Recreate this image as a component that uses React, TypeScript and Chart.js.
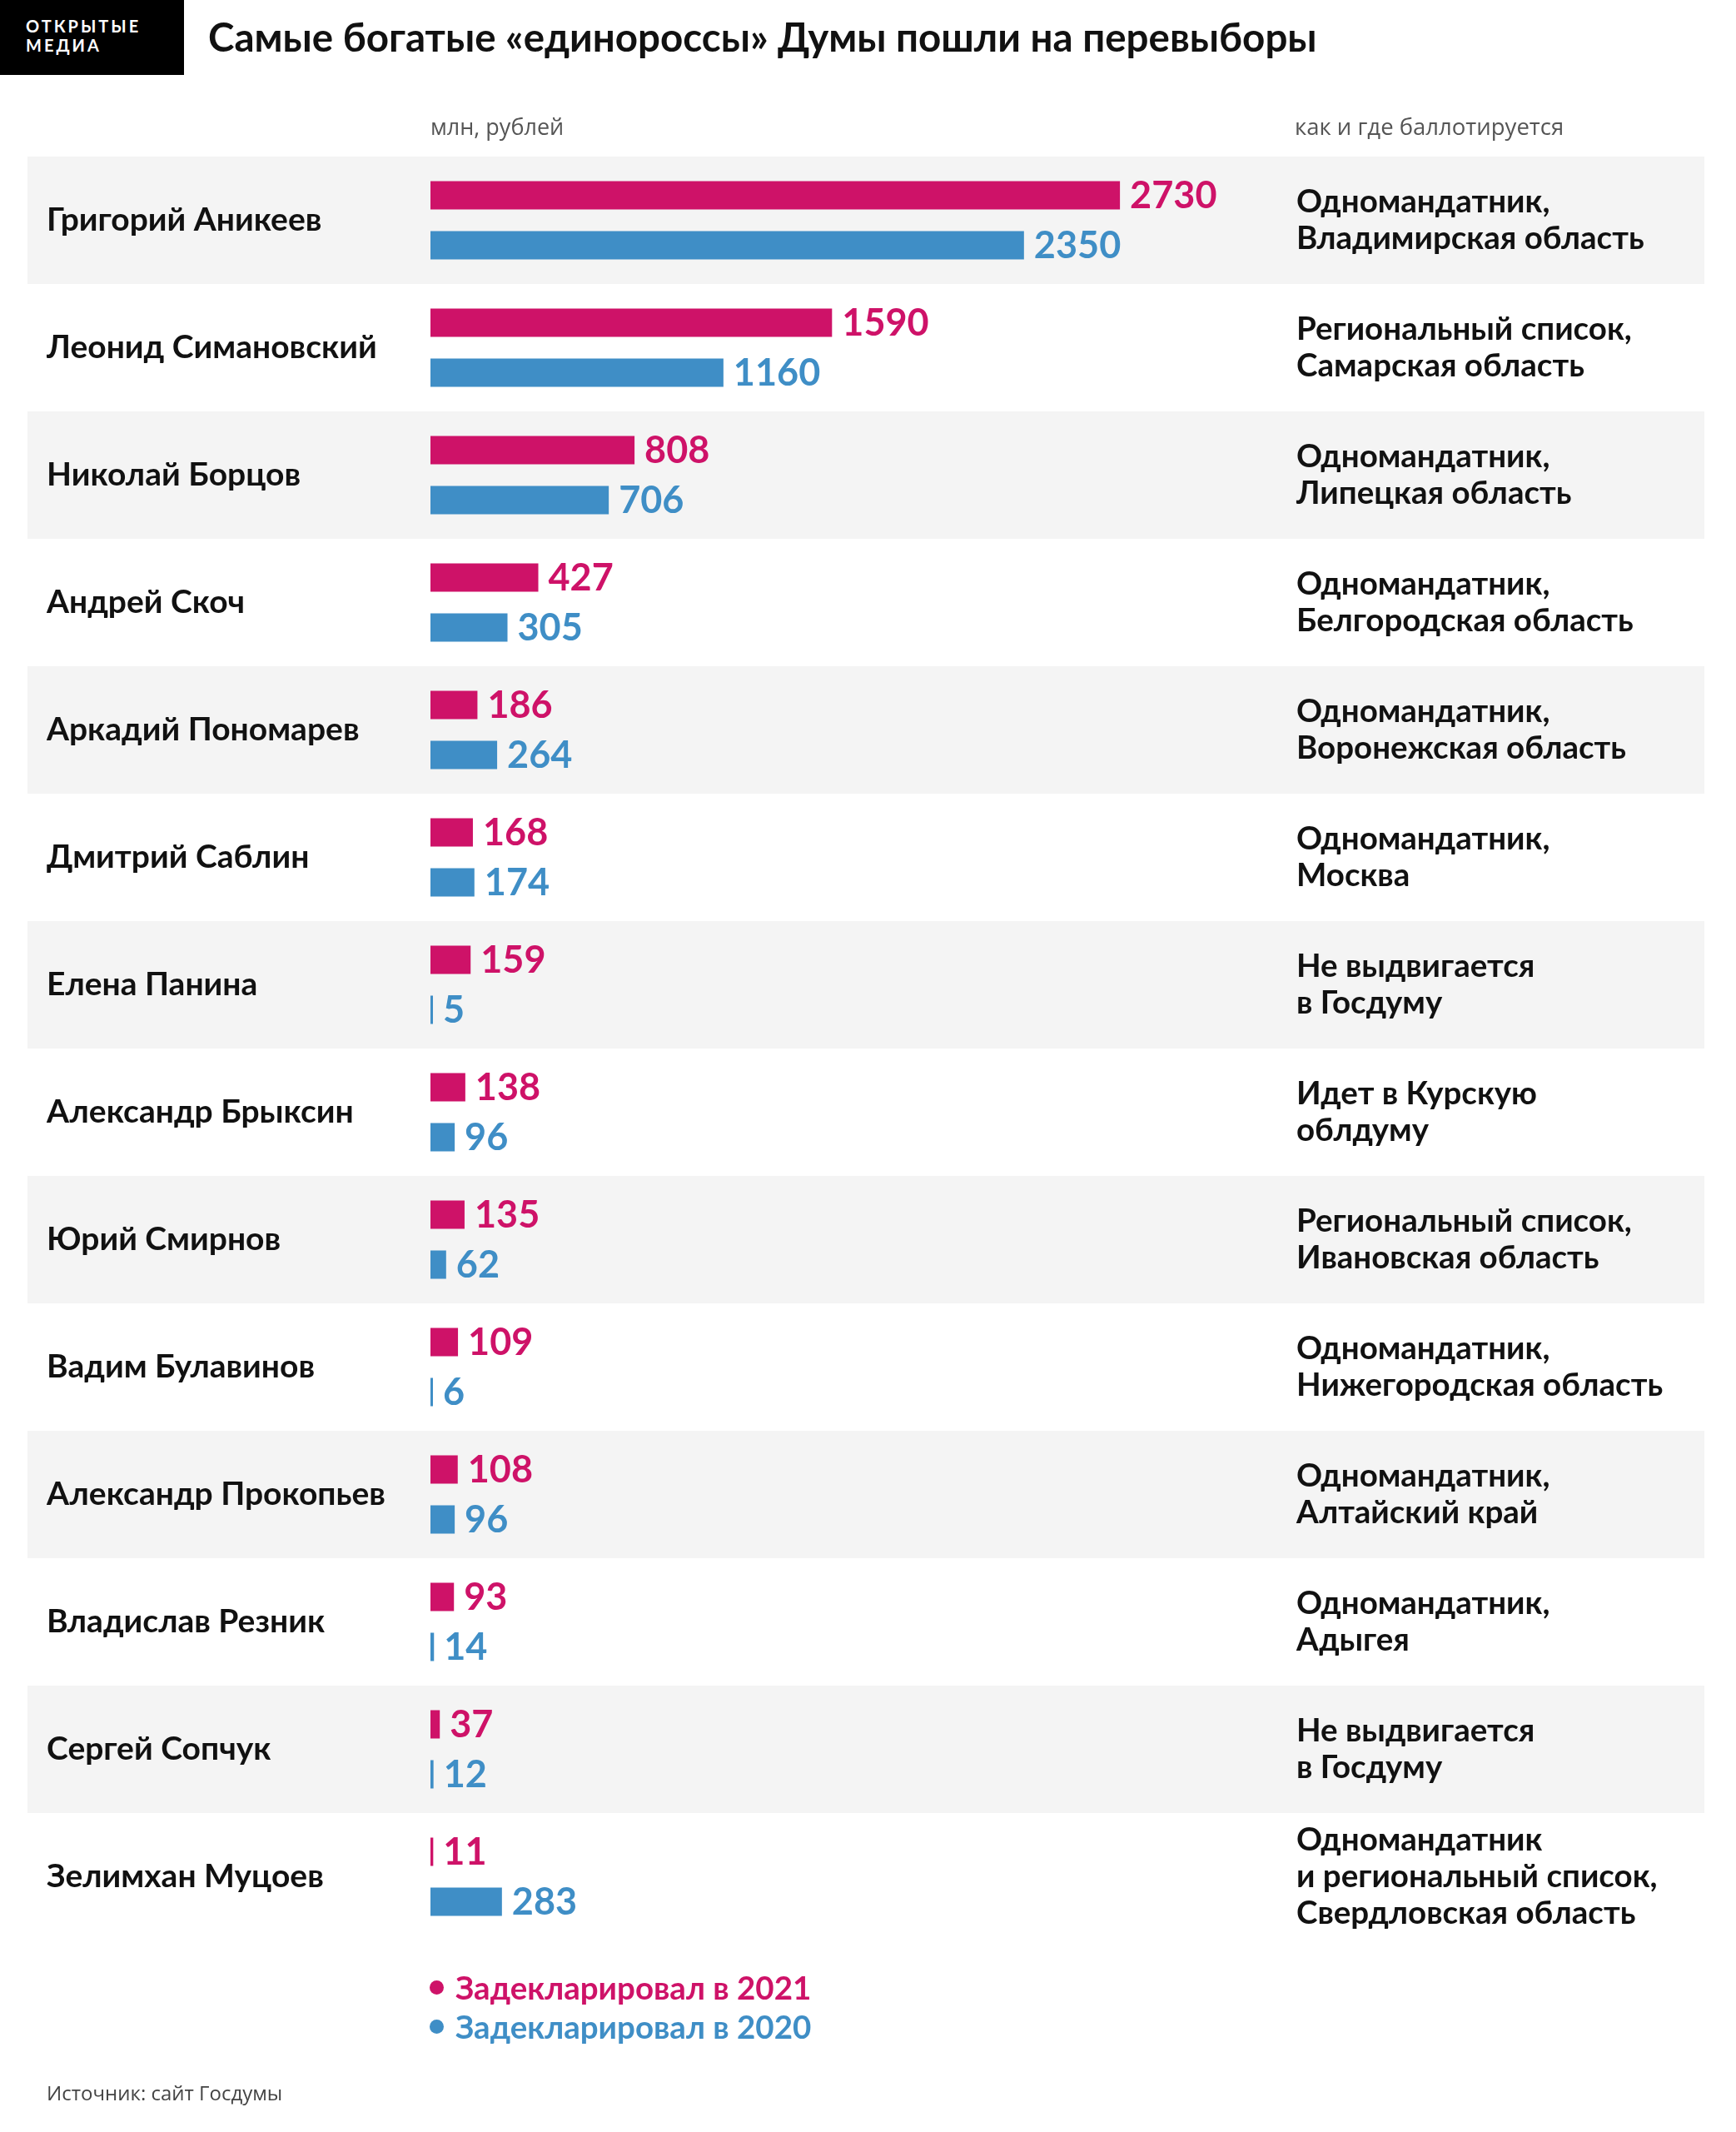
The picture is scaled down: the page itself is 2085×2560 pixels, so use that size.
import React, { useEffect, useRef } from "react";
import { Chart, registerables } from "chart.js";

Chart.register(...registerables);

const names = [
  "Григорий Аникеев",
  "Леонид Симановский",
  "Николай Борцов",
  "Андрей Скоч",
  "Аркадий Пономарев",
  "Дмитрий Саблин",
  "Елена Панина",
  "Александр Брыксин",
  "Юрий Смирнов",
  "Вадим Булавинов",
  "Александр Прокопьев",
  "Владислав Резник",
  "Сергей Сопчук",
  "Зелимхан Муцоев",
];

const values2021 = [2730, 1590, 808, 427, 186, 168, 159, 138, 135, 109, 108, 93, 37, 11];
const values2020 = [2350, 1160, 706, 305, 264, 174, 5, 96, 62, 6, 96, 14, 12, 283];

const runInfo = [
  ["Одномандатник,", "Владимирская область"],
  ["Региональный список,", "Самарская область"],
  ["Одномандатник,", "Липецкая область"],
  ["Одномандатник,", "Белгородская область"],
  ["Одномандатник,", "Воронежская область"],
  ["Одномандатник,", "Москва"],
  ["Не выдвигается", "в Госдуму"],
  ["Идет в Курскую", "облдуму"],
  ["Региональный список,", "Ивановская область"],
  ["Одномандатник,", "Нижегородская область"],
  ["Одномандатник,", "Алтайский край"],
  ["Одномандатник,", "Адыгея"],
  ["Не выдвигается", "в Госдуму"],
  ["Одномандатник", "и региональный список,", "Свердловская область"],
];

const seriesLabels = ["Задекларировал в 2021", "Задекларировал в 2020"];
const PINK = "#CE1268";
const BLUE = "#3F8EC6";
const BAND = "#F4F4F4";
const BOLD_FONT = "Lato, 'Noto Sans', sans-serif";
const LIGHT_FONT = "'Open Sans', 'Noto Sans', sans-serif";

const W = 2085;
const H = 2560;

const bandPlugin = {
  id: "bands",
  beforeDraw(chart: any) {
    const { ctx, chartArea } = chart;
    const n = names.length;
    const step = (chartArea.bottom - chartArea.top) / n;
    const yScale = chart.scales.y;
    ctx.save();
    ctx.fillStyle = BAND;
    for (let i = 0; i < n; i += 2) {
      const c = yScale.getPixelForValue(i);
      ctx.fillRect(33, c - step / 2, 2047 - 33, step);
    }
    ctx.restore();
  },
};

const valueLabelPlugin = {
  id: "valueLabels",
  afterDatasetsDraw(chart: any) {
    const { ctx } = chart;
    ctx.save();
    ctx.font = `bold 45px ${BOLD_FONT}`;
    ctx.textBaseline = "middle";
    ctx.textAlign = "left";
    chart.data.datasets.forEach((ds: any, di: number) => {
      const meta = chart.getDatasetMeta(di);
      ctx.fillStyle = ds.backgroundColor;
      meta.data.forEach((bar: any, i: number) => {
        ctx.fillText(String(ds.data[i]), bar.x + 12, bar.y + 1);
      });
    });
    ctx.restore();
  },
};

export default function App() {
  const canvasRef = useRef<HTMLCanvasElement | null>(null);

  useEffect(() => {
    if (!canvasRef.current) return;
    const chart = new Chart(canvasRef.current, {
      type: "bar",
      data: {
        labels: names,
        datasets: [
          {
            label: seriesLabels[0],
            data: values2021,
            backgroundColor: PINK,
            categoryPercentage: 120 / 153,
            barPercentage: 34 / 60,
            minBarLength: 3,
          },
          {
            label: seriesLabels[1],
            data: values2020,
            backgroundColor: BLUE,
            categoryPercentage: 120 / 153,
            barPercentage: 34 / 60,
            minBarLength: 3,
          },
        ],
      },
      options: {
        indexAxis: "y",
        animation: false,
        responsive: true,
        maintainAspectRatio: false,
        devicePixelRatio: 1,
        layout: { padding: { left: 56, top: 188, bottom: H - 2330, right: 0 } },
        plugins: {
          legend: { display: false },
          tooltip: { enabled: false },
        },
        scales: {
          x: {
            type: "linear",
            min: 0,
            max: 3300,
            display: false,
          },
          y: {
            type: "category",
            position: "left",
            offset: true,
            grid: { display: false, drawTicks: false },
            border: { display: false },
            afterFit(scale: any) {
              scale.width = 517 - 56;
            },
            ticks: {
              autoSkip: false,
              crossAlign: "far",
              padding: 0,
              color: "#111111",
              font: { family: BOLD_FONT, size: 39, weight: "bold" },
            },
          },
          y2: {
            type: "category",
            position: "right",
            labels: runInfo as any,
            offset: true,
            grid: { display: false, drawTicks: false },
            border: { display: false },
            afterFit(scale: any) {
              scale.width = W - 1518;
            },
            ticks: {
              autoSkip: false,
              crossAlign: "near",
              padding: 39,
              color: "#111111",
              font: { family: BOLD_FONT, size: 38.5, weight: "bold", lineHeight: "44px" },
            },
          },
        },
      } as any,
      plugins: [bandPlugin, valueLabelPlugin],
    });
    return () => chart.destroy();
  }, []);

  return (
    <div style={{ position: "absolute", left: 0, top: 0, width: W, height: H, background: "#fff" }}>
      <div style={{ position: "absolute", left: 0, top: 0, width: W, height: H }}>
        <canvas ref={canvasRef} />
      </div>
      <div
        style={{
          position: "absolute",
          left: 0,
          top: 0,
          width: 221,
          height: 90,
          background: "#000",
          color: "#fff",
          fontFamily: BOLD_FONT,
          fontWeight: 700,
          fontSize: 20,
          letterSpacing: 3,
          lineHeight: "23px",
          boxSizing: "border-box",
          paddingLeft: 31,
          paddingTop: 20,
        }}
      >
        <div>ОТКРЫТЫЕ</div>
        <div>МЕДИА</div>
      </div>
      <div
        style={{
          position: "absolute",
          left: 250,
          top: 16,
          fontFamily: BOLD_FONT,
          fontWeight: 700,
          fontSize: 47.5,
          lineHeight: "56px",
          color: "#111",
          whiteSpace: "nowrap",
        }}
      >
        Самые богатые «единороссы» Думы пошли на перевыборы
      </div>
      <div
        style={{
          position: "absolute",
          left: 517,
          top: 134,
          fontFamily: LIGHT_FONT,
          fontSize: 27,
          lineHeight: "36px",
          color: "#555",
          whiteSpace: "nowrap",
        }}
      >
        млн, рублей
      </div>
      <div
        style={{
          position: "absolute",
          left: 1555,
          top: 134,
          fontFamily: LIGHT_FONT,
          fontSize: 27.5,
          lineHeight: "36px",
          color: "#555",
          whiteSpace: "nowrap",
        }}
      >
        как и где баллотируется
      </div>
      {seriesLabels.map((lab, i) => (
        <div
          key={lab}
          style={{
            position: "absolute",
            left: 516,
            top: 2364 + i * 47,
            height: 44,
            display: "flex",
            alignItems: "center",
            fontFamily: BOLD_FONT,
            fontWeight: 700,
            fontSize: 38.5,
            color: i === 0 ? PINK : BLUE,
            whiteSpace: "nowrap",
          }}
        >
          <span
            style={{
              display: "inline-block",
              width: 17,
              height: 17,
              borderRadius: 9,
              background: i === 0 ? PINK : BLUE,
              marginRight: 14,
            }}
          />
          {lab}
        </div>
      ))}
      <div
        style={{
          position: "absolute",
          left: 56,
          top: 2496,
          fontFamily: LIGHT_FONT,
          fontSize: 24,
          lineHeight: "34px",
          color: "#444",
          whiteSpace: "nowrap",
        }}
      >
        Источник: сайт Госдумы
      </div>
    </div>
  );
}
